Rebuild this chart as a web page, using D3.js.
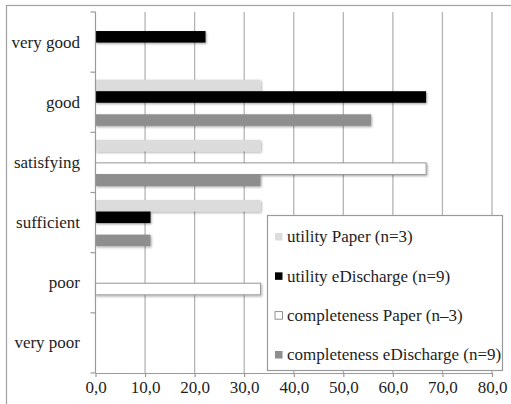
<!DOCTYPE html>
<html>
<head>
<meta charset="utf-8">
<script src="https://cdn.jsdelivr.net/npm/d3@7"></script>
<style>
  html, body { margin: 0; padding: 0; background: #fff; }
  svg { display: block; }
</style>
</head>
<body>
<svg id="chart" width="511" height="404"></svg>
<script>
// Rating categories, top to bottom
const categories = ["very good", "good", "satisfying", "sufficient", "poor", "very poor"];

// Series names (legend order, also bar order inside each category)
const seriesNames = [
  "utility Paper (n=3)",
  "utility eDischarge (n=9)",
  "completeness Paper (n\u20133)",
  "completeness eDischarge (n=9)"
];

// Percentages per category, one array per series
const utilityPaper           = [0, 33.3, 33.3, 33.3, 0, 0];
const utilityEDischarge      = [22.2, 66.7, 0, 11.1, 0, 0];
const completenessPaper      = [0, 0, 66.7, 0, 33.3, 0];
const completenessEDischarge = [0, 55.6, 33.3, 11.1, 0, 0];

const xTicks = [0, 10, 20, 30, 40, 50, 60, 70, 80];

const seriesValues = [utilityPaper, utilityEDischarge, completenessPaper, completenessEDischarge];
const fills   = ["#dcdcdc", "#000000", "#ffffff", "#8e8e8e"];
const strokes = ["none", "none", "#9a9a9a", "none"];

const FONT = "Liberation Serif";
const TEXT_COLOR = "#1e1e1e";
const svg = d3.select("#chart");

// drop shadow used by the bars
const defs = svg.append("defs");
const f = defs.append("filter").attr("id", "shadow")
  .attr("x", "-5%").attr("y", "-30%").attr("width", "115%").attr("height", "180%");
f.append("feDropShadow").attr("dx", 1).attr("dy", 1.2)
  .attr("stdDeviation", 0.9).attr("flood-color", "#000").attr("flood-opacity", 0.35);

// outer frame
svg.append("rect").attr("x", 6.5).attr("y", 5.5).attr("width", 510).attr("height", 410)
  .attr("fill", "none").attr("stroke", "#a0a0a0").attr("stroke-width", 1.2);

const x = d3.scaleLinear().domain([0, 80]).range([95.5, 492]);
const y = d3.scaleBand().domain(categories).range([12, 373]).padding(0);
const sub = d3.scaleBand().domain(d3.range(seriesValues.length))
  .range([7.5, y.bandwidth() - 6.5]).padding(0);

// vertical gridlines
svg.append("g").selectAll("line").data(xTicks.slice(1)).join("line")
  .attr("x1", d => x(d)).attr("x2", d => x(d))
  .attr("y1", 12).attr("y2", 373)
  .attr("stroke", "#b4b4b4").attr("stroke-width", 1.3);

// bars
const rows = [];
categories.forEach((c, i) => {
  seriesValues.forEach((vals, s) => {
    if (vals[i] > 0) rows.push({ c, s, v: vals[i] });
  });
});
svg.append("g").selectAll("rect").data(rows).join("rect")
  .attr("x", x(0))
  .attr("y", d => y(d.c) + sub(d.s))
  .attr("width", d => x(d.v) - x(0))
  .attr("height", sub.bandwidth())
  .attr("fill", d => fills[d.s])
  .attr("stroke", d => strokes[d.s])
  .attr("stroke-width", 1)
  .attr("filter", "url(#shadow)");

// bottom axis
const xAxis = d3.axisBottom(x).tickValues(xTicks).tickSize(4).tickSizeOuter(0)
  .tickFormat(d => d3.format(".1f")(d).replace(".", ","));
const gx = svg.append("g").attr("transform", "translate(0,373)").call(xAxis)
  .attr("font-family", FONT).attr("font-size", 17);
gx.select(".domain").attr("stroke", "#9a9a9a").attr("stroke-width", 1.2);
gx.selectAll(".tick line").attr("stroke", "#9a9a9a").attr("stroke-width", 1.2);
gx.selectAll(".tick text").attr("fill", TEXT_COLOR).attr("font-size", 17)
  .attr("font-family", FONT).attr("dy", "0.95em").attr("y", 4);

// left axis: line plus ticks at category boundaries
const gy = svg.append("g");
gy.append("line").attr("x1", x(0)).attr("x2", x(0)).attr("y1", 12).attr("y2", 373)
  .attr("stroke", "#9a9a9a").attr("stroke-width", 1.2);
const bounds = categories.map(c => y(c)).concat([y.range()[1]]);
gy.selectAll("line.tk").data(bounds).join("line").attr("class", "tk")
  .attr("x1", x(0) - 5).attr("x2", x(0))
  .attr("y1", d => d).attr("y2", d => d)
  .attr("stroke", "#9a9a9a").attr("stroke-width", 1.2);
gy.selectAll("text").data(categories).join("text")
  .attr("x", 80).attr("y", d => y(d) + y.bandwidth() / 2)
  .attr("dy", "0.32em").attr("text-anchor", "end")
  .attr("font-family", FONT)
  .attr("font-size", 17).attr("fill", TEXT_COLOR).text(d => d);

// legend
const lg = svg.append("g");
lg.append("rect").attr("x", 267.5).attr("y", 215.5).attr("width", 235).attr("height", 155)
  .attr("fill", "#fff").attr("stroke", "#9a9a9a").attr("stroke-width", 1.2);
const ly = d3.scalePoint().domain(d3.range(seriesNames.length)).range([237, 355]);
const items = lg.selectAll("g.item").data(seriesNames).join("g").attr("class", "item")
  .attr("transform", (d, i) => `translate(0,${ly(i)})`);
items.append("rect").attr("x", 275).attr("y", -4).attr("width", 7.5).attr("height", 7.5)
  .attr("fill", (d, i) => fills[i])
  .attr("stroke", (d, i) => strokes[i] === "none" ? "none" : "#777").attr("stroke-width", 0.8);
items.append("text").attr("x", 287).attr("y", 0).attr("dy", "0.32em")
  .attr("font-family", FONT)
  .attr("font-size", 17).attr("fill", TEXT_COLOR).text(d => d);
</script>
</body>
</html>
